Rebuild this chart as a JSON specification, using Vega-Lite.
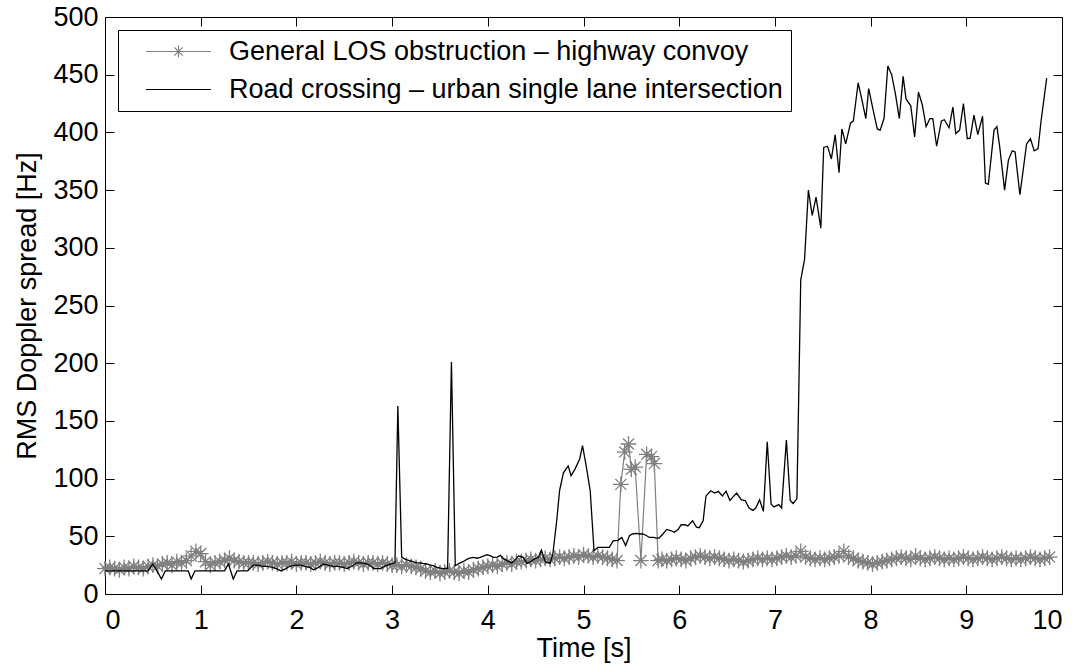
{
 "$schema": "https://vega.github.io/schema/vega-lite/v6.json",
 "width": 957, "height": 577,
 "autosize": {"type": "none"},
 "padding": {"left": 105, "top": 17, "right": 21, "bottom": 75},
 "config": {
  "font": "Liberation Sans",
  "view": {"stroke": null},
  "axis": {"domainColor": "black", "domainWidth": 1, "tickColor": "black", "tickSize": -9, "tickWidth": 1, "labelColor": "black", "labelFontSize": 27, "titleFontSize": 27, "titleFontWeight": "normal", "titleColor": "black", "grid": false}
 },
 "datasets": {
  "grey": [
   {"t":0.00,"v":22,"s":"G"},{"t":0.05,"v":23,"s":"G"},{"t":0.10,"v":22,"s":"G"},{"t":0.15,"v":21,"s":"G"},{"t":0.20,"v":23,"s":"G"},{"t":0.25,"v":22,"s":"G"},{"t":0.30,"v":24,"s":"G"},{"t":0.35,"v":23,"s":"G"},{"t":0.40,"v":22,"s":"G"},{"t":0.45,"v":24,"s":"G"},
   {"t":0.50,"v":25,"s":"G"},{"t":0.55,"v":24,"s":"G"},{"t":0.60,"v":26,"s":"G"},{"t":0.65,"v":27,"s":"G"},{"t":0.70,"v":25,"s":"G"},{"t":0.75,"v":28,"s":"G"},{"t":0.80,"v":27,"s":"G"},{"t":0.85,"v":29,"s":"G"},
   {"t":0.90,"v":33,"s":"G"},{"t":0.95,"v":37,"s":"G"},{"t":1.00,"v":35,"s":"G"},{"t":1.05,"v":28,"s":"G"},{"t":1.10,"v":25,"s":"G"},{"t":1.15,"v":27,"s":"G"},{"t":1.20,"v":28,"s":"G"},{"t":1.25,"v":29,"s":"G"},{"t":1.30,"v":31,"s":"G"},{"t":1.35,"v":29,"s":"G"},{"t":1.40,"v":28,"s":"G"},{"t":1.45,"v":27,"s":"G"},{"t":1.50,"v":27,"s":"G"},
   {"t":1.55,"v":27,"s":"G"},{"t":1.60,"v":26,"s":"G"},{"t":1.65,"v":27,"s":"G"},{"t":1.70,"v":28,"s":"G"},{"t":1.75,"v":27,"s":"G"},{"t":1.80,"v":26,"s":"G"},{"t":1.85,"v":27,"s":"G"},{"t":1.90,"v":27,"s":"G"},{"t":1.95,"v":28,"s":"G"},{"t":2.00,"v":26,"s":"G"},
   {"t":2.05,"v":27,"s":"G"},{"t":2.10,"v":27,"s":"G"},{"t":2.15,"v":26,"s":"G"},{"t":2.20,"v":27,"s":"G"},{"t":2.25,"v":28,"s":"G"},{"t":2.30,"v":27,"s":"G"},{"t":2.35,"v":26,"s":"G"},{"t":2.40,"v":27,"s":"G"},{"t":2.45,"v":27,"s":"G"},{"t":2.50,"v":26,"s":"G"},
   {"t":2.55,"v":27,"s":"G"},{"t":2.60,"v":28,"s":"G"},{"t":2.65,"v":27,"s":"G"},{"t":2.70,"v":26,"s":"G"},{"t":2.75,"v":27,"s":"G"},{"t":2.80,"v":27,"s":"G"},{"t":2.85,"v":26,"s":"G"},{"t":2.90,"v":27,"s":"G"},{"t":2.95,"v":26,"s":"G"},{"t":3.00,"v":25,"s":"G"},
   {"t":3.05,"v":25,"s":"G"},{"t":3.10,"v":24,"s":"G"},{"t":3.15,"v":25,"s":"G"},{"t":3.20,"v":24,"s":"G"},{"t":3.25,"v":23,"s":"G"},{"t":3.30,"v":22,"s":"G"},
   {"t":3.35,"v":20,"s":"G"},{"t":3.40,"v":19,"s":"G"},{"t":3.45,"v":20,"s":"G"},{"t":3.50,"v":18,"s":"G"},{"t":3.55,"v":19,"s":"G"},{"t":3.60,"v":20,"s":"G"},{"t":3.65,"v":19,"s":"G"},{"t":3.70,"v":18,"s":"G"},{"t":3.75,"v":20,"s":"G"},{"t":3.80,"v":19,"s":"G"},{"t":3.85,"v":21,"s":"G"},
   {"t":3.90,"v":22,"s":"G"},{"t":3.95,"v":23,"s":"G"},{"t":4.00,"v":24,"s":"G"},{"t":4.05,"v":25,"s":"G"},{"t":4.10,"v":24,"s":"G"},{"t":4.15,"v":26,"s":"G"},{"t":4.20,"v":27,"s":"G"},{"t":4.25,"v":26,"s":"G"},{"t":4.30,"v":28,"s":"G"},
   {"t":4.35,"v":28,"s":"G"},{"t":4.40,"v":29,"s":"G"},{"t":4.45,"v":30,"s":"G"},{"t":4.50,"v":29,"s":"G"},{"t":4.55,"v":30,"s":"G"},{"t":4.60,"v":31,"s":"G"},{"t":4.65,"v":30,"s":"G"},{"t":4.70,"v":31,"s":"G"},{"t":4.75,"v":32,"s":"G"},
   {"t":4.80,"v":31,"s":"G"},{"t":4.85,"v":32,"s":"G"},{"t":4.90,"v":33,"s":"G"},{"t":4.95,"v":32,"s":"G"},{"t":5.00,"v":34,"s":"G"},{"t":5.05,"v":33,"s":"G"},{"t":5.10,"v":32,"s":"G"},{"t":5.15,"v":33,"s":"G"},{"t":5.20,"v":32,"s":"G"},{"t":5.25,"v":31,"s":"G"},{"t":5.30,"v":30,"s":"G"},
   {"t":5.35,"v":29,"s":"G"},{"t":5.39,"v":95,"s":"G"},{"t":5.43,"v":123,"s":"G"},{"t":5.47,"v":130,"s":"G"},{"t":5.50,"v":108,"s":"G"},{"t":5.54,"v":110,"s":"G"},{"t":5.60,"v":29,"s":"G"},{"t":5.66,"v":121,"s":"G"},{"t":5.71,"v":119,"s":"G"},{"t":5.74,"v":113,"s":"G"},{"t":5.78,"v":29,"s":"G"},
   {"t":5.82,"v":30,"s":"G"},{"t":5.87,"v":29,"s":"G"},{"t":5.92,"v":30,"s":"G"},{"t":5.97,"v":31,"s":"G"},{"t":6.02,"v":30,"s":"G"},{"t":6.07,"v":29,"s":"G"},
   {"t":6.12,"v":31,"s":"G"},{"t":6.17,"v":32,"s":"G"},{"t":6.22,"v":33,"s":"G"},{"t":6.27,"v":32,"s":"G"},{"t":6.32,"v":31,"s":"G"},{"t":6.37,"v":32,"s":"G"},{"t":6.42,"v":31,"s":"G"},
   {"t":6.47,"v":30,"s":"G"},{"t":6.52,"v":29,"s":"G"},{"t":6.57,"v":30,"s":"G"},{"t":6.62,"v":29,"s":"G"},{"t":6.67,"v":28,"s":"G"},{"t":6.72,"v":29,"s":"G"},{"t":6.77,"v":30,"s":"G"},{"t":6.82,"v":31,"s":"G"},{"t":6.87,"v":30,"s":"G"},{"t":6.92,"v":31,"s":"G"},{"t":6.97,"v":30,"s":"G"},{"t":7.02,"v":31,"s":"G"},
   {"t":7.07,"v":32,"s":"G"},{"t":7.12,"v":33,"s":"G"},{"t":7.17,"v":32,"s":"G"},{"t":7.22,"v":33,"s":"G"},{"t":7.27,"v":37,"s":"G"},{"t":7.32,"v":32,"s":"G"},{"t":7.37,"v":31,"s":"G"},{"t":7.42,"v":30,"s":"G"},{"t":7.47,"v":31,"s":"G"},
   {"t":7.52,"v":30,"s":"G"},{"t":7.57,"v":31,"s":"G"},{"t":7.62,"v":32,"s":"G"},{"t":7.67,"v":33,"s":"G"},{"t":7.72,"v":37,"s":"G"},{"t":7.77,"v":32,"s":"G"},{"t":7.82,"v":31,"s":"G"},{"t":7.87,"v":29,"s":"G"},{"t":7.92,"v":28,"s":"G"},{"t":7.97,"v":27,"s":"G"},
   {"t":8.02,"v":26,"s":"G"},{"t":8.07,"v":27,"s":"G"},{"t":8.12,"v":28,"s":"G"},{"t":8.17,"v":29,"s":"G"},{"t":8.22,"v":30,"s":"G"},{"t":8.27,"v":31,"s":"G"},{"t":8.32,"v":32,"s":"G"},{"t":8.37,"v":31,"s":"G"},{"t":8.42,"v":30,"s":"G"},{"t":8.47,"v":33,"s":"G"},
   {"t":8.52,"v":31,"s":"G"},{"t":8.57,"v":30,"s":"G"},{"t":8.62,"v":31,"s":"G"},{"t":8.67,"v":32,"s":"G"},{"t":8.72,"v":31,"s":"G"},{"t":8.77,"v":30,"s":"G"},{"t":8.82,"v":31,"s":"G"},{"t":8.87,"v":30,"s":"G"},{"t":8.92,"v":31,"s":"G"},{"t":8.97,"v":32,"s":"G"},
   {"t":9.02,"v":31,"s":"G"},{"t":9.07,"v":30,"s":"G"},{"t":9.12,"v":31,"s":"G"},{"t":9.17,"v":32,"s":"G"},{"t":9.22,"v":31,"s":"G"},{"t":9.27,"v":30,"s":"G"},{"t":9.32,"v":31,"s":"G"},{"t":9.37,"v":32,"s":"G"},{"t":9.42,"v":31,"s":"G"},{"t":9.47,"v":30,"s":"G"},
   {"t":9.52,"v":31,"s":"G"},{"t":9.57,"v":30,"s":"G"},{"t":9.62,"v":31,"s":"G"},{"t":9.67,"v":32,"s":"G"},{"t":9.72,"v":31,"s":"G"},{"t":9.77,"v":30,"s":"G"},{"t":9.82,"v":31,"s":"G"},{"t":9.87,"v":32,"s":"G"}
  ],
  "black": [
   {"t":0.00,"v":20,"s":"R"},{"t":0.05,"v":20,"s":"R"},{"t":0.10,"v":20,"s":"R"},{"t":0.15,"v":20,"s":"R"},{"t":0.20,"v":20,"s":"R"},{"t":0.25,"v":20,"s":"R"},{"t":0.30,"v":20,"s":"R"},{"t":0.35,"v":20,"s":"R"},{"t":0.40,"v":20,"s":"R"},{"t":0.45,"v":20,"s":"R"},
   {"t":0.50,"v":26,"s":"R"},{"t":0.55,"v":19,"s":"R"},{"t":0.59,"v":13,"s":"R"},{"t":0.63,"v":20,"s":"R"},{"t":0.68,"v":20,"s":"R"},{"t":0.73,"v":20,"s":"R"},{"t":0.78,"v":20,"s":"R"},{"t":0.83,"v":20,"s":"R"},{"t":0.87,"v":20,"s":"R"},{"t":0.90,"v":13,"s":"R"},
   {"t":0.94,"v":20,"s":"R"},{"t":1.00,"v":20,"s":"R"},{"t":1.05,"v":20,"s":"R"},{"t":1.10,"v":20,"s":"R"},{"t":1.15,"v":20,"s":"R"},{"t":1.20,"v":20,"s":"R"},{"t":1.25,"v":20,"s":"R"},{"t":1.29,"v":26,"s":"R"},{"t":1.34,"v":13,"s":"R"},{"t":1.38,"v":20,"s":"R"},
   {"t":1.43,"v":20,"s":"R"},{"t":1.49,"v":20,"s":"R"},{"t":1.55,"v":25,"s":"R"},{"t":1.60,"v":25,"s":"R"},{"t":1.65,"v":24,"s":"R"},{"t":1.70,"v":24,"s":"R"},{"t":1.75,"v":23,"s":"R"},{"t":1.79,"v":22,"s":"R"},{"t":1.84,"v":20,"s":"R"},{"t":1.89,"v":22,"s":"R"},
   {"t":1.93,"v":24,"s":"R"},{"t":1.98,"v":25,"s":"R"},{"t":2.04,"v":25,"s":"R"},{"t":2.09,"v":24,"s":"R"},{"t":2.14,"v":23,"s":"R"},{"t":2.18,"v":21,"s":"R"},{"t":2.23,"v":23,"s":"R"},{"t":2.28,"v":26,"s":"R"},{"t":2.33,"v":25,"s":"R"},{"t":2.39,"v":24,"s":"R"},
   {"t":2.44,"v":24,"s":"R"},{"t":2.49,"v":23,"s":"R"},{"t":2.53,"v":22,"s":"R"},{"t":2.58,"v":24,"s":"R"},{"t":2.63,"v":27,"s":"R"},{"t":2.68,"v":27,"s":"R"},{"t":2.74,"v":26,"s":"R"},{"t":2.78,"v":24,"s":"R"},{"t":2.81,"v":22,"s":"R"},{"t":2.85,"v":22,"s":"R"},
   {"t":2.88,"v":22,"s":"R"},{"t":2.92,"v":24,"s":"R"},{"t":2.95,"v":25,"s":"R"},{"t":2.99,"v":26,"s":"R"},{"t":3.03,"v":27,"s":"R"},{"t":3.06,"v":163,"s":"R"},{"t":3.10,"v":32,"s":"R"},{"t":3.14,"v":30,"s":"R"},{"t":3.18,"v":29,"s":"R"},{"t":3.22,"v":28,"s":"R"},
   {"t":3.25,"v":27,"s":"R"},{"t":3.29,"v":27,"s":"R"},{"t":3.32,"v":26.5,"s":"R"},{"t":3.36,"v":26,"s":"R"},{"t":3.40,"v":25,"s":"R"},{"t":3.43,"v":24.5,"s":"R"},{"t":3.47,"v":23,"s":"R"},{"t":3.50,"v":22.5,"s":"R"},{"t":3.54,"v":22,"s":"R"},{"t":3.58,"v":22,"s":"R"},
   {"t":3.62,"v":201,"s":"R"},{"t":3.66,"v":24.5,"s":"R"},{"t":3.70,"v":26.5,"s":"R"},{"t":3.74,"v":28,"s":"R"},{"t":3.78,"v":30,"s":"R"},{"t":3.81,"v":31,"s":"R"},{"t":3.85,"v":31.7,"s":"R"},{"t":3.89,"v":31,"s":"R"},{"t":3.92,"v":31.7,"s":"R"},{"t":3.96,"v":33,"s":"R"},
   {"t":3.99,"v":34,"s":"R"},{"t":4.03,"v":33,"s":"R"},{"t":4.06,"v":31.7,"s":"R"},{"t":4.10,"v":32,"s":"R"},{"t":4.13,"v":33.5,"s":"R"},{"t":4.16,"v":31,"s":"R"},{"t":4.18,"v":30,"s":"R"},{"t":4.22,"v":28,"s":"R"},{"t":4.25,"v":26.8,"s":"R"},{"t":4.29,"v":30,"s":"R"},
   {"t":4.32,"v":33,"s":"R"},{"t":4.37,"v":31.7,"s":"R"},{"t":4.41,"v":26.5,"s":"R"},{"t":4.45,"v":28,"s":"R"},{"t":4.48,"v":30,"s":"R"},{"t":4.53,"v":32,"s":"R"},{"t":4.56,"v":38,"s":"R"},{"t":4.60,"v":28,"s":"R"},{"t":4.65,"v":26.5,"s":"R"},{"t":4.68,"v":34.7,"s":"R"},
   {"t":4.72,"v":63.5,"s":"R"},{"t":4.75,"v":89.5,"s":"R"},{"t":4.79,"v":105,"s":"R"},{"t":4.84,"v":111,"s":"R"},{"t":4.87,"v":102.6,"s":"R"},{"t":4.91,"v":108,"s":"R"},{"t":4.96,"v":117,"s":"R"},{"t":4.99,"v":128.6,"s":"R"},{"t":5.03,"v":110,"s":"R"},{"t":5.07,"v":89.5,"s":"R"},
   {"t":5.11,"v":37.5,"s":"R"},{"t":5.15,"v":40.4,"s":"R"},{"t":5.18,"v":40.4,"s":"R"},{"t":5.22,"v":40.4,"s":"R"},{"t":5.27,"v":40.5,"s":"R"},{"t":5.31,"v":46,"s":"R"},{"t":5.36,"v":46.5,"s":"R"},{"t":5.40,"v":49,"s":"R"},{"t":5.44,"v":42,"s":"R"},{"t":5.48,"v":50.5,"s":"R"},
   {"t":5.51,"v":52,"s":"R"},{"t":5.55,"v":52.5,"s":"R"},{"t":5.59,"v":52,"s":"R"},{"t":5.62,"v":52,"s":"R"},{"t":5.66,"v":50.5,"s":"R"},{"t":5.69,"v":49,"s":"R"},{"t":5.73,"v":49,"s":"R"},{"t":5.76,"v":48.5,"s":"R"},{"t":5.79,"v":48.5,"s":"R"},{"t":5.83,"v":52,"s":"R"},
   {"t":5.87,"v":56,"s":"R"},{"t":5.91,"v":55,"s":"R"},{"t":5.95,"v":53.5,"s":"R"},{"t":5.99,"v":56,"s":"R"},{"t":6.02,"v":60,"s":"R"},{"t":6.06,"v":60,"s":"R"},{"t":6.09,"v":59,"s":"R"},{"t":6.14,"v":63.5,"s":"R"},{"t":6.18,"v":58,"s":"R"},{"t":6.21,"v":57.5,"s":"R"},
   {"t":6.25,"v":63.5,"s":"R"},{"t":6.28,"v":85,"s":"R"},{"t":6.33,"v":89.5,"s":"R"},{"t":6.37,"v":87.5,"s":"R"},{"t":6.41,"v":89,"s":"R"},{"t":6.45,"v":85,"s":"R"},{"t":6.49,"v":89,"s":"R"},{"t":6.53,"v":81,"s":"R"},{"t":6.56,"v":84,"s":"R"},{"t":6.60,"v":87.5,"s":"R"},
   {"t":6.65,"v":81.5,"s":"R"},{"t":6.69,"v":81,"s":"R"},{"t":6.73,"v":74.5,"s":"R"},{"t":6.77,"v":72.5,"s":"R"},{"t":6.80,"v":74.5,"s":"R"},{"t":6.84,"v":81.7,"s":"R"},{"t":6.88,"v":71.6,"s":"R"},{"t":6.92,"v":132,"s":"R"},{"t":6.96,"v":78,"s":"R"},{"t":6.99,"v":75.5,"s":"R"},
   {"t":7.04,"v":77.5,"s":"R"},{"t":7.07,"v":74.5,"s":"R"},{"t":7.12,"v":133.5,"s":"R"},{"t":7.16,"v":81,"s":"R"},{"t":7.19,"v":78.5,"s":"R"},{"t":7.23,"v":82.5,"s":"R"},{"t":7.27,"v":272,"s":"R"},{"t":7.31,"v":290,"s":"R"},{"t":7.35,"v":350,"s":"R"},{"t":7.39,"v":328,"s":"R"},
   {"t":7.43,"v":344,"s":"R"},{"t":7.48,"v":317,"s":"R"},{"t":7.51,"v":387,"s":"R"},{"t":7.55,"v":388,"s":"R"},{"t":7.59,"v":377,"s":"R"},{"t":7.63,"v":398,"s":"R"},{"t":7.67,"v":365,"s":"R"},{"t":7.70,"v":403,"s":"R"},{"t":7.74,"v":390,"s":"R"},{"t":7.79,"v":408,"s":"R"},
   {"t":7.82,"v":410,"s":"R"},{"t":7.87,"v":443,"s":"R"},{"t":7.91,"v":428,"s":"R"},{"t":7.95,"v":412,"s":"R"},{"t":7.98,"v":438,"s":"R"},{"t":8.03,"v":418,"s":"R"},{"t":8.07,"v":403,"s":"R"},{"t":8.10,"v":402,"s":"R"},{"t":8.14,"v":412,"s":"R"},{"t":8.18,"v":457.5,"s":"R"},
   {"t":8.22,"v":450,"s":"R"},{"t":8.26,"v":433,"s":"R"},{"t":8.30,"v":412,"s":"R"},{"t":8.34,"v":448.5,"s":"R"},{"t":8.37,"v":429,"s":"R"},{"t":8.42,"v":423,"s":"R"},{"t":8.46,"v":396,"s":"R"},{"t":8.50,"v":435,"s":"R"},{"t":8.54,"v":424,"s":"R"},{"t":8.58,"v":405,"s":"R"},
   {"t":8.62,"v":412,"s":"R"},{"t":8.65,"v":412,"s":"R"},{"t":8.69,"v":388,"s":"R"},{"t":8.74,"v":410,"s":"R"},{"t":8.77,"v":411,"s":"R"},{"t":8.82,"v":404,"s":"R"},{"t":8.86,"v":422,"s":"R"},{"t":8.89,"v":399,"s":"R"},{"t":8.93,"v":402,"s":"R"},{"t":8.97,"v":425,"s":"R"},
   {"t":9.01,"v":394.5,"s":"R"},{"t":9.04,"v":395,"s":"R"},{"t":9.08,"v":415,"s":"R"},{"t":9.12,"v":398,"s":"R"},{"t":9.17,"v":414,"s":"R"},{"t":9.20,"v":356,"s":"R"},{"t":9.23,"v":355,"s":"R"},{"t":9.29,"v":402,"s":"R"},{"t":9.32,"v":405,"s":"R"},{"t":9.35,"v":387,"s":"R"},
   {"t":9.40,"v":350,"s":"R"},{"t":9.44,"v":376,"s":"R"},{"t":9.48,"v":384,"s":"R"},{"t":9.51,"v":383,"s":"R"},{"t":9.56,"v":346,"s":"R"},{"t":9.60,"v":371,"s":"R"},{"t":9.63,"v":390,"s":"R"},{"t":9.67,"v":394.5,"s":"R"},{"t":9.71,"v":384,"s":"R"},{"t":9.75,"v":386,"s":"R"},
   {"t":9.78,"v":409,"s":"R"},{"t":9.84,"v":447,"s":"R"}
  ]
 },
 "layer": [
  {
   "data": {"name": "grey"},
   "mark": {"type": "line", "strokeWidth": 1.2},
   "encoding": {
    "x": {"field": "t", "type": "quantitative", "scale": {"domain": [0, 10], "nice": false}, "axis": {"orient": "bottom", "values": [0,1,2,3,4,5,6,7,8,9,10], "title": "Time [s]", "labelPadding": 22, "titlePadding": 2}},
    "y": {"field": "v", "type": "quantitative", "scale": {"domain": [0, 500], "nice": false}, "axis": {"orient": "left", "values": [0,50,100,150,200,250,300,350,400,450,500], "title": "RMS Doppler spread [Hz]", "labelPadding": 16, "titlePadding": 11}},
    "color": {"field": "s", "type": "nominal", "scale": {"domain": ["G", "R"], "range": ["#808080", "#000000"]},
     "legend": {"orient": "top-left", "offset": 13, "title": null,
      "labelExpr": "datum.label == 'G' ? 'General LOS obstruction – highway convoy' : 'Road crossing – urban single lane intersection'",
      "labelFontSize": 27, "labelLimit": 0, "labelColor": "black", "symbolSize": 400, "symbolStrokeWidth": 1.2,
      "symbolOffset": 39, "labelOffset": 37, "padding": 8, "strokeColor": "black", "fillColor": "white", "cornerRadius": 0, "rowPadding": 10,
      "encode": {"symbols": {"update": {
       "shape": {"signal": "datum.value == 'G' ? 'M-3.25,0L3.25,0M-0.6,0L0.6,0M0,-0.6L0,0.6M-0.42,-0.42L0.42,0.42M-0.42,0.42L0.42,-0.42' : 'M-3.25,0L3.25,0'"},
       "fill": {"value": "transparent"}}}}
     }}
   }
  },
  {
   "data": {"name": "grey"},
   "mark": {"type": "point", "shape": "M-1,0L1,0M0,-1L0,1M-0.7,-0.7L0.7,0.7M-0.7,0.7L0.7,-0.7", "size": 250, "filled": false, "stroke": "#808080", "strokeWidth": 1.3, "opacity": 1},
   "encoding": {
    "x": {"field": "t", "type": "quantitative", "axis": null},
    "y": {"field": "v", "type": "quantitative", "axis": null}
   }
  },
  {
   "data": {"name": "black"},
   "mark": {"type": "line", "strokeWidth": 1.3},
   "encoding": {
    "x": {"field": "t", "type": "quantitative", "axis": {"orient": "top", "values": [0,1,2,3,4,5,6,7,8,9,10], "labels": false, "title": null}},
    "y": {"field": "v", "type": "quantitative", "axis": {"orient": "right", "values": [0,50,100,150,200,250,300,350,400,450,500], "labels": false, "title": null}},
    "color": {"field": "s", "type": "nominal"}
   }
  }
 ],
 "resolve": {"axis": {"x": "independent", "y": "independent"}}
}
